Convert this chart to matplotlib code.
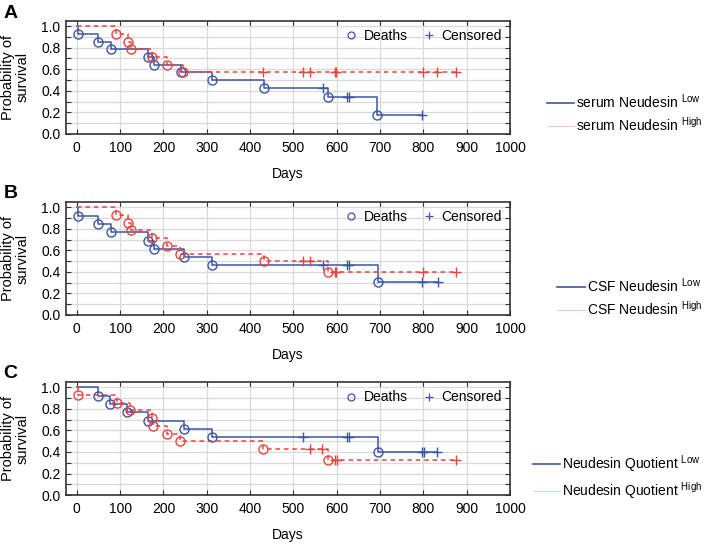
import matplotlib
matplotlib.use("Agg")
import matplotlib.pyplot as plt
from matplotlib.lines import Line2D

plt.rcParams["font.family"] = ["Liberation Sans", "DejaVu Sans"]
plt.rcParams["mathtext.fontset"] = "custom"
plt.rcParams["mathtext.rm"] = "Liberation Sans"
plt.rcParams["mathtext.it"] = "Liberation Sans:italic"

BLUE = "#3c56a5"
RED = "#e8453c"

# Panel A - serum Neudesin
a_low_death_days = [3, 49, 78, 165, 177, 240, 312, 432, 580, 694]
a_low_death_surv = [0.929, 0.857, 0.786, 0.714, 0.643, 0.571, 0.500, 0.429, 0.343, 0.171]
a_low_cens_days = [569, 624, 628, 798]
a_high_death_days = [90, 117, 124, 174, 208, 245]
a_high_death_surv = [0.929, 0.857, 0.786, 0.714, 0.643, 0.571]
a_high_cens_days = [430, 521, 538, 595, 599, 800, 832, 876]

# Panel B - CSF Neudesin
b_low_death_days = [3, 49, 78, 165, 177, 247, 312, 695]
b_low_death_surv = [0.923, 0.846, 0.769, 0.692, 0.615, 0.538, 0.462, 0.308]
b_low_cens_days = [569, 624, 628, 798, 834]
b_high_death_days = [90, 117, 124, 174, 208, 239, 432, 580]
b_high_death_surv = [0.929, 0.857, 0.786, 0.714, 0.643, 0.571, 0.500, 0.400]
b_high_cens_days = [522, 538, 595, 599, 800, 876]

# Panel C - Neudesin Quotient
c_low_death_days = [49, 76, 116, 165, 247, 312, 695]
c_low_death_surv = [0.923, 0.846, 0.769, 0.692, 0.615, 0.538, 0.404]
c_low_cens_days = [523, 624, 628, 798, 801, 832]
c_high_death_days = [3, 92, 122, 174, 176, 208, 239, 430, 580]
c_high_death_surv = [0.929, 0.857, 0.786, 0.714, 0.643, 0.571, 0.500, 0.429, 0.321]
c_high_cens_days = [538, 565, 595, 600, 876]

panel_letters = ["A", "B", "C"]
group_names = ["serum Neudesin", "CSF Neudesin", "Neudesin Quotient"]
x_ticks = [0, 100, 200, 300, 400, 500, 600, 700, 800, 900, 1000]
y_ticks = [0.0, 0.2, 0.4, 0.6, 0.8, 1.0]


def surv_at(days, death_days, death_surv):
    out = []
    for d in days:
        s = 1.0
        for dd, ss in zip(death_days, death_surv):
            if dd <= d:
                s = ss
        out.append(s)
    return out


def km_curve(ax, death_days, death_surv, cens_days, color, ls):
    t_end = max(death_days + cens_days)
    xs = [0] + death_days + [t_end]
    ys = [1.0] + death_surv + [death_surv[-1]]
    ax.step(xs, ys, where="post", color=color, lw=1.1, ls=ls, zorder=3)
    ax.plot(death_days, death_surv, ls="none", marker="o", ms=6.5,
            mfc="none", mec=color, mew=1.0, zorder=4)
    ax.plot(cens_days, surv_at(cens_days, death_days, death_surv), ls="none",
            marker="+", ms=7, mec=color, mew=1.0, zorder=4)


fig = plt.figure(figsize=(7.09, 5.44), dpi=100)

panels = [
    (a_low_death_days, a_low_death_surv, a_low_cens_days,
     a_high_death_days, a_high_death_surv, a_high_cens_days),
    (b_low_death_days, b_low_death_surv, b_low_cens_days,
     b_high_death_days, b_high_death_surv, b_high_cens_days),
    (c_low_death_days, c_low_death_surv, c_low_cens_days,
     c_high_death_days, c_high_death_surv, c_high_cens_days),
]
axes_bottoms = [0.754, 0.421, 0.090]
legend_y = [0.792, 0.454, 0.123]

for i, data in enumerate(panels):
    ld, ls_, lc, hd, hs, hc = data
    ax = fig.add_axes([0.0931, axes_bottoms[i], 0.6262, 0.2077])

    km_curve(ax, ld, ls_, lc, BLUE, "-")
    km_curve(ax, hd, hs, hc, RED, (0, (3, 2.5)))

    ax.set_xlim(-25, 1000)
    ax.set_ylim(0, 1.05)
    ax.set_xticks(x_ticks)
    ax.set_yticks(y_ticks)
    ax.set_yticklabels([f"{v:.1f}" for v in y_ticks])
    ax.set_yticks([0.1, 0.3, 0.5, 0.7, 0.9], minor=True)
    ax.grid(True, which="both", color="#d9d9d9", lw=0.9, zorder=0)
    ax.set_axisbelow(True)
    ax.tick_params(which="both", direction="in", top=True, right=True,
                   length=3.5, width=0.8, labelsize=10, color="#333333")
    ax.tick_params(axis="x", pad=5)
    ax.tick_params(axis="y", pad=4)
    for sp in ax.spines.values():
        sp.set_color("#333333")
        sp.set_linewidth(1.2)

    ax.set_xlabel("Days", fontsize=10)
    ax.xaxis.set_label_coords(0.5, -0.29)
    ax.set_ylabel("Probability of\nsurvival", fontsize=10.5, linespacing=1.0)
    ax.yaxis.set_label_coords(-0.083, 0.5)

    # deaths / censored key inside the plot
    key = [Line2D([], [], ls="none", marker="o", ms=5, mfc="none", mec=BLUE, mew=0.9),
           Line2D([], [], ls="none", marker="+", ms=6, mec=BLUE, mew=0.9)]
    ax.legend(key, ["Deaths", "Censored"], loc="upper right", ncol=2,
              frameon=False, fontsize=10, handlelength=1.0, handletextpad=0.4,
              columnspacing=1.0, borderaxespad=0.2)

    # group legend outside, on the right
    grp = [Line2D([], [], color=BLUE, lw=1.2),
           Line2D([], [], color="#f6c4c4", lw=0.7)]
    name = group_names[i]
    fig.legend(grp, [name + r" $^{\rm Low}$", name + r" $^{\rm High}$"],
               loc="center right", bbox_to_anchor=(1.0, legend_y[i]),
               frameon=False, fontsize=10, handlelength=2.0, handletextpad=0.1,
               labelspacing=0.4, borderaxespad=0.1)

    fig.text(0.005, 1 - (5 + 180 * i) / 544, panel_letters[i],
             fontsize=14, fontweight="bold", va="top", ha="left")

fig.savefig("out.png", dpi=100)
